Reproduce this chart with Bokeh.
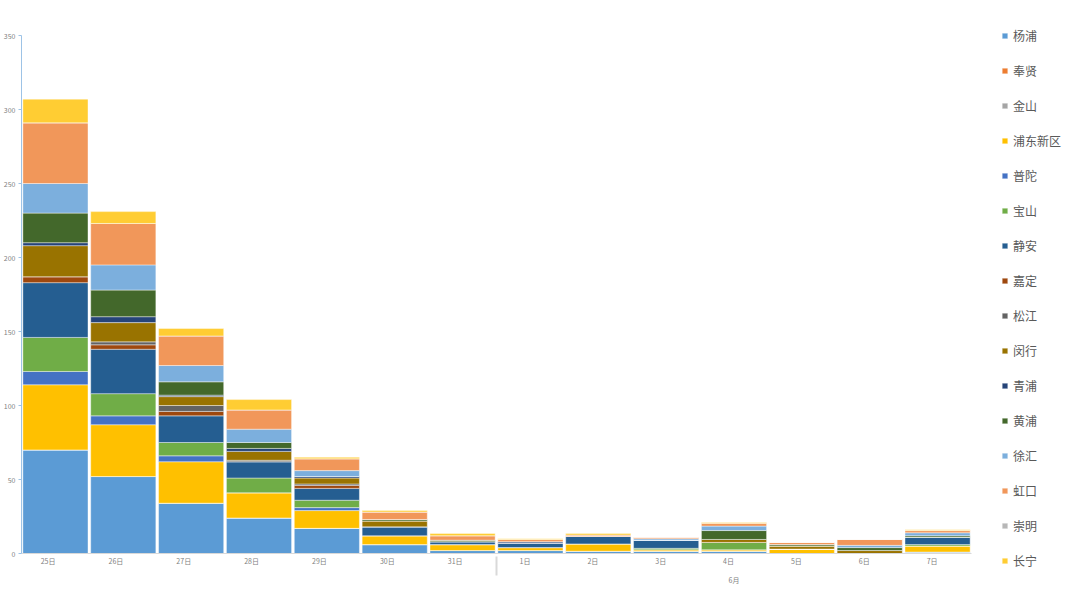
from bokeh.plotting import figure
from bokeh.models import FactorRange, Range1d, Legend, FixedTicker
from bokeh.embed import file_html
from bokeh.resources import INLINE

months = [" "] * 7 + ["6月"] * 7
days = ["25日", "26日", "27日", "28日", "29日", "30日", "31日",
        "1日", "2日", "3日", "4日", "5日", "6日", "7日"]

districts = ["杨浦", "奉贤", "金山", "浦东新区", "普陀", "宝山", "静安", "嘉定",
             "松江", "闵行", "青浦", "黄浦", "徐汇", "虹口", "崇明", "长宁"]

yangpu   = [70, 52, 34, 24, 17, 6, 2, 2, 1.5, 1.5, 1.5, 0, 0, 1]
fengxian = [0] * 14
jinshan  = [0] * 14
pudong   = [44, 35, 28, 17, 12, 6, 4, 2, 5, 1, 1, 3, 0, 4]
putuo    = [9, 6, 4, 0, 2, 0, 0, 0, 0, 0, 0, 0, 0, 0]
baoshan  = [23, 15, 9, 10, 5, 0, 0, 0, 0, 1, 5, 0, 0, 1]
jingan   = [37, 30, 18, 11, 8, 6, 2, 3, 5, 5.5, 0, 0, 0, 5]
jiading  = [4, 3, 3, 0, 2, 0, 0, 0, 0, 0, 0, 0, 0, 0]
songjiang = [0, 2, 4, 1, 1, 0, 0, 0, 0, 0, 0, 0, 0, 0]
minhang  = [21, 13, 6, 6, 4, 4, 0, 0, 0, 0, 2, 2, 2, 0]
qingpu   = [2, 4, 1, 2, 1, 0, 0, 1, 0, 0, 0, 0, 0, 0]
huangpu  = [20, 18, 9, 4, 0, 1, 1, 0, 0, 0, 6, 1, 2, 1]
xuhui    = [20, 17, 11, 9, 4, 0, 0, 0, 0, 1, 3, 0, 1.5, 2]
hongkou  = [41, 28, 20, 13, 8, 5, 3, 1.5, 1, 1, 2, 1.5, 4, 1.5]
chongming = [0] * 14
changning = [16, 8, 5, 7, 1, 1, 1.5, 0.5, 1, 0, 0.5, 0, 0, 0.5]

series = [yangpu, fengxian, jinshan, pudong, putuo, baoshan, jingan, jiading,
          songjiang, minhang, qingpu, huangpu, xuhui, hongkou, chongming, changning]

colors = ["#5B9BD5", "#ED7D31", "#A5A5A5", "#FFC000", "#4472C4", "#70AD47",
          "#255E91", "#9E480E", "#636363", "#997300", "#264478", "#43682B",
          "#7CAFDD", "#F1975A", "#B7B7B7", "#FFCD33"]

factors = list(zip(months, days))
data = {"x": factors}
for name, vals in zip(districts, series):
    data[name] = vals

FONT = "Noto Sans CJK SC"

p = figure(width=1064, height=597, output_backend="svg", toolbar_location=None,
           x_range=FactorRange(*factors, group_padding=0, range_padding=0),
           y_range=Range1d(0, 350),
           min_border_left=16, min_border_right=93, min_border_top=35,
           min_border_bottom=44)
p.outline_line_color = None
p.xgrid.grid_line_color = None
p.ygrid.grid_line_color = None

renderers = p.vbar_stack(districts, x="x", width=0.96, source=data,
                         fill_color=colors, line_color="white",
                         line_width=0.6, line_alpha=0.7)

# y axis
p.yaxis.ticker = FixedTicker(ticks=[0, 50, 100, 150, 200, 250, 300, 350])
p.yaxis.axis_line_color = "#9DC3E6"
p.yaxis.major_tick_line_color = "#9DC3E6"
p.yaxis.major_tick_out = 3
p.yaxis.major_tick_in = 0
p.yaxis.minor_tick_line_color = None
p.yaxis.major_label_text_font_size = "7px"
p.yaxis.major_label_text_color = "#7F7F7F"
p.yaxis.major_label_text_font = FONT
p.yaxis.major_label_standoff = 3

# x axis
p.xaxis.axis_line_color = "#D9D9D9"
p.xaxis.major_tick_line_color = None
p.xaxis.minor_tick_line_color = None
p.xaxis.major_label_text_font_size = "7px"
p.xaxis.major_label_text_color = "#7F7F7F"
p.xaxis.major_label_text_font = FONT
p.xaxis.major_label_standoff = 1
p.xaxis.group_text_font_size = "7px"
p.xaxis.group_text_color = "#7F7F7F"
p.xaxis.group_text_font = FONT
p.xaxis.group_text_font_style = "normal"
p.xaxis.separator_line_color = "#D9D9D9"
p.xaxis.major_label_orientation = 0

items = [(name, [r]) for name, r in zip(districts, renderers)]
legend = Legend(items=items, location=(30, -18), padding=0, margin=-240,
                spacing=14, label_height=21, glyph_height=7, glyph_width=7,
                label_standoff=5, border_line_color=None,
                background_fill_alpha=0,
                label_text_font_size="12px", label_text_color="#595959",
                label_text_font=FONT)
p.add_layout(legend, "right")

open("out.html", "w").write(file_html(p, INLINE))
